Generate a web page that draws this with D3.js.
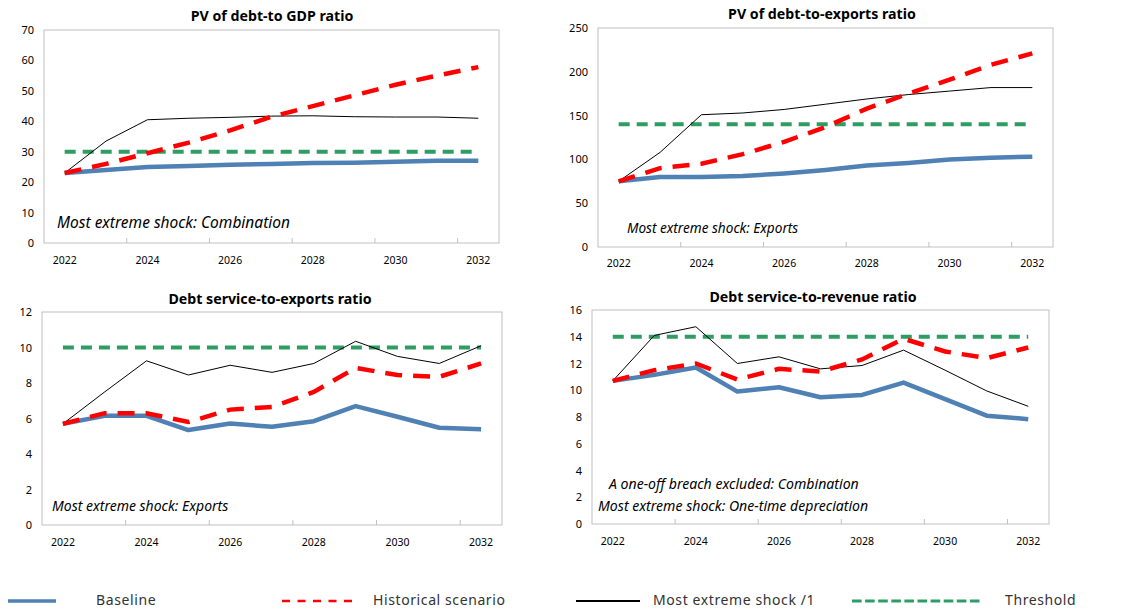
<!DOCTYPE html>
<html><head><meta charset="utf-8">
<script src="https://cdn.jsdelivr.net/npm/d3@7"></script>
<style>
body{margin:0;background:#fff;}
svg{display:block;font-family:"Noto Sans","Open Sans",sans-serif;}
</style></head><body>
<svg id="c" width="1130" height="614"></svg>
<script>
const years = [2022,2023,2024,2025,2026,2027,2028,2029,2030,2031,2032];
const yearLabels = ["2022","2024","2026","2028","2030","2032"];

// Panel 1: PV of debt-to GDP ratio
const gdpBaseline   = [23,24,25,25.3,25.7,26,26.3,26.4,26.7,27,27];
const gdpHistorical = [23,26,29.5,33,37,41.5,45,48.5,52,55,57.8];
const gdpExtreme    = [23,33.5,40.5,41,41.3,41.7,41.8,41.5,41.4,41.4,41];
const gdpThreshold  = 30;
const gdpTicks = [0,10,20,30,40,50,60,70];

// Panel 2: PV of debt-to-exports ratio
const expBaseline   = [75,80,80,81,84,88,93,96,100,102,103];
const expHistorical = [75,90,95,106,120,137,158,175,191,208,221];
const expExtreme    = [75,108,151,153,157,163,169,174,178,182,182];
const expThreshold  = 140;
const expTicks = [0,50,100,150,200,250];

// Panel 3: Debt service-to-exports ratio
const dsxBaseline   = [5.7,6.15,6.15,5.35,5.72,5.53,5.85,6.7,6.1,5.48,5.4];
const dsxHistorical = [5.7,6.3,6.3,5.8,6.5,6.65,7.5,8.85,8.45,8.35,9.1];
const dsxExtreme    = [5.7,7.5,9.25,8.45,9.0,8.6,9.1,10.35,9.5,9.1,10.1];
const dsxThreshold  = 10;
const dsxTicks = [0,2,4,6,8,10,12];

// Panel 4: Debt service-to-revenue ratio
const dsrBaseline   = [10.7,11.15,11.7,9.9,10.22,9.48,9.65,10.57,9.33,8.1,7.84];
const dsrHistorical = [10.7,11.5,12.0,10.8,11.6,11.4,12.3,13.85,12.9,12.4,13.2];
const dsrExtreme    = [10.7,14.1,14.75,12.0,12.5,11.6,11.85,13.0,11.5,9.95,8.8];
const dsrThreshold  = 14;
const dsrTicks = [0,2,4,6,8,10,12,14,16];

const legendLabels = ["Baseline","Historical scenario","Most extreme shock /1","Threshold"];

const COL = {base:"#4f81b5", hist:"#ff0000", ext:"#000000", thr:"#2e9d63", frame:"#c0c0c0"};

const panels = [
  {title:"PV of debt-to GDP ratio", x0:44, x1:499, y0:30, y1:243, max:70, ticks:gdpTicks,
   base:gdpBaseline, hist:gdpHistorical, ext:gdpExtreme, thr:gdpThreshold, tx:272, ty:21, xly:264,
   notes:[{t:"Most extreme shock: Combination", x:57, y:228, fs:15.5}]},
  {title:"PV of debt-to-exports ratio", x0:598, x1:1053, y0:28, y1:247, max:250, ticks:expTicks,
   base:expBaseline, hist:expHistorical, ext:expExtreme, thr:expThreshold, tx:822, ty:19, xly:267,
   notes:[{t:"Most extreme shock: Exports", x:627, y:233, fs:13.6}]},
  {title:"Debt service-to-exports ratio", x0:42, x1:502, y0:312, y1:525, max:12, ticks:dsxTicks,
   base:dsxBaseline, hist:dsxHistorical, ext:dsxExtreme, thr:dsxThreshold, tx:270, ty:304, xly:546,
   notes:[{t:"Most extreme shock: Exports", x:52, y:511, fs:14}]},
  {title:"Debt service-to-revenue ratio", x0:592, x1:1049, y0:310, y1:524, max:16, ticks:dsrTicks,
   base:dsrBaseline, hist:dsrHistorical, ext:dsrExtreme, thr:dsrThreshold, tx:813, ty:302, xly:545,
   notes:[{t:"A one-off breach excluded: Combination", x:609, y:489, fs:14.1},{t:"Most extreme shock: One-time depreciation", x:598, y:511, fs:14.1}]}
];

const svg = d3.select("#c");

panels.forEach(p => {
  const g = svg.append("g");
  const x = d3.scaleBand().domain(years).range([p.x0, p.x1]).padding(0);
  const y = d3.scaleLinear().domain([0, p.max]).range([p.y1, p.y0]);
  const cx = d => x(d) + x.bandwidth()/2;

  g.append("rect").attr("x",p.x0).attr("y",p.y0).attr("width",p.x1-p.x0).attr("height",p.y1-p.y0)
    .attr("fill","none").attr("stroke",COL.frame).attr("stroke-width",1);

  g.append("text").attr("x",p.tx).attr("y",p.ty).attr("text-anchor","middle")
    .attr("font-size",14.2).attr("font-weight","bold").attr("fill","#000").text(p.title);

  const ya = d3.axisLeft(y).tickValues(p.ticks).tickSize(0).tickPadding(10).tickFormat(d3.format("d"));
  const yg = g.append("g").attr("transform",`translate(${p.x0},0)`).call(ya);
  yg.select(".domain").remove();
  yg.selectAll("text").attr("font-size",11).attr("fill","#000").attr("font-family","Noto Sans, sans-serif");

  const tickYears = years.filter((d,i)=> i%2===0 && i>0);
  g.selectAll(".xt").data(tickYears).enter().append("line")
    .attr("x1",d=>x(d)).attr("x2",d=>x(d)).attr("y1",p.y1).attr("y2",p.y1-5)
    .attr("stroke",COL.frame);
  g.selectAll(".xl").data(yearLabels).enter().append("text")
    .attr("x",d=>cx(+d)).attr("y",p.xly).attr("text-anchor","middle")
    .attr("font-size",10.5).attr("fill","#000").text(d=>d);

  const line = d3.line().x((d,i)=>cx(years[i])).y(d=>y(d));

  g.append("line").attr("x1",cx(years[0])).attr("x2",cx(years[years.length-1]))
    .attr("y1",y(p.thr)).attr("y2",y(p.thr))
    .attr("stroke",COL.thr).attr("stroke-width",4).attr("stroke-dasharray","11,7");
  g.append("path").datum(p.base).attr("d",line).attr("fill","none")
    .attr("stroke",COL.base).attr("stroke-width",4.5).attr("stroke-linejoin","round");
  g.append("path").datum(p.ext).attr("d",line).attr("fill","none")
    .attr("stroke",COL.ext).attr("stroke-width",1);
  g.append("path").datum(p.hist).attr("d",line).attr("fill","none")
    .attr("stroke",COL.hist).attr("stroke-width",4.5).attr("stroke-dasharray","17,11");

  p.notes.forEach(n => {
    g.append("text").attr("x",n.x).attr("y",n.y).attr("font-size",n.fs).attr("font-style","italic")
      .attr("fill","#000").text(n.t);
  });
});

// legend
const lg = svg.append("g");
const ly = 601;
const legItems = [
  {x1:8,x2:56,stroke:COL.base,w:3.5,dash:null,tx:96},
  {x1:282,x2:357,stroke:COL.hist,w:2.5,dash:"8,7.5",tx:373},
  {x1:576,x2:640,stroke:COL.ext,w:1.8,dash:null,tx:653},
  {x1:852,x2:983,stroke:COL.thr,w:3,dash:"9.6,3.5",tx:1005}
];
legItems.forEach((it,i)=>{
  const l = lg.append("line").attr("x1",it.x1).attr("x2",it.x2).attr("y1",ly).attr("y2",ly)
    .attr("stroke",it.stroke).attr("stroke-width",it.w);
  if(it.dash) l.attr("stroke-dasharray",it.dash);
  lg.append("text").attr("x",it.tx).attr("y",ly+4).attr("font-size",14).attr("letter-spacing",0.6)
    .attr("fill","#333").text(legendLabels[i]);
});
</script>
</body></html>
